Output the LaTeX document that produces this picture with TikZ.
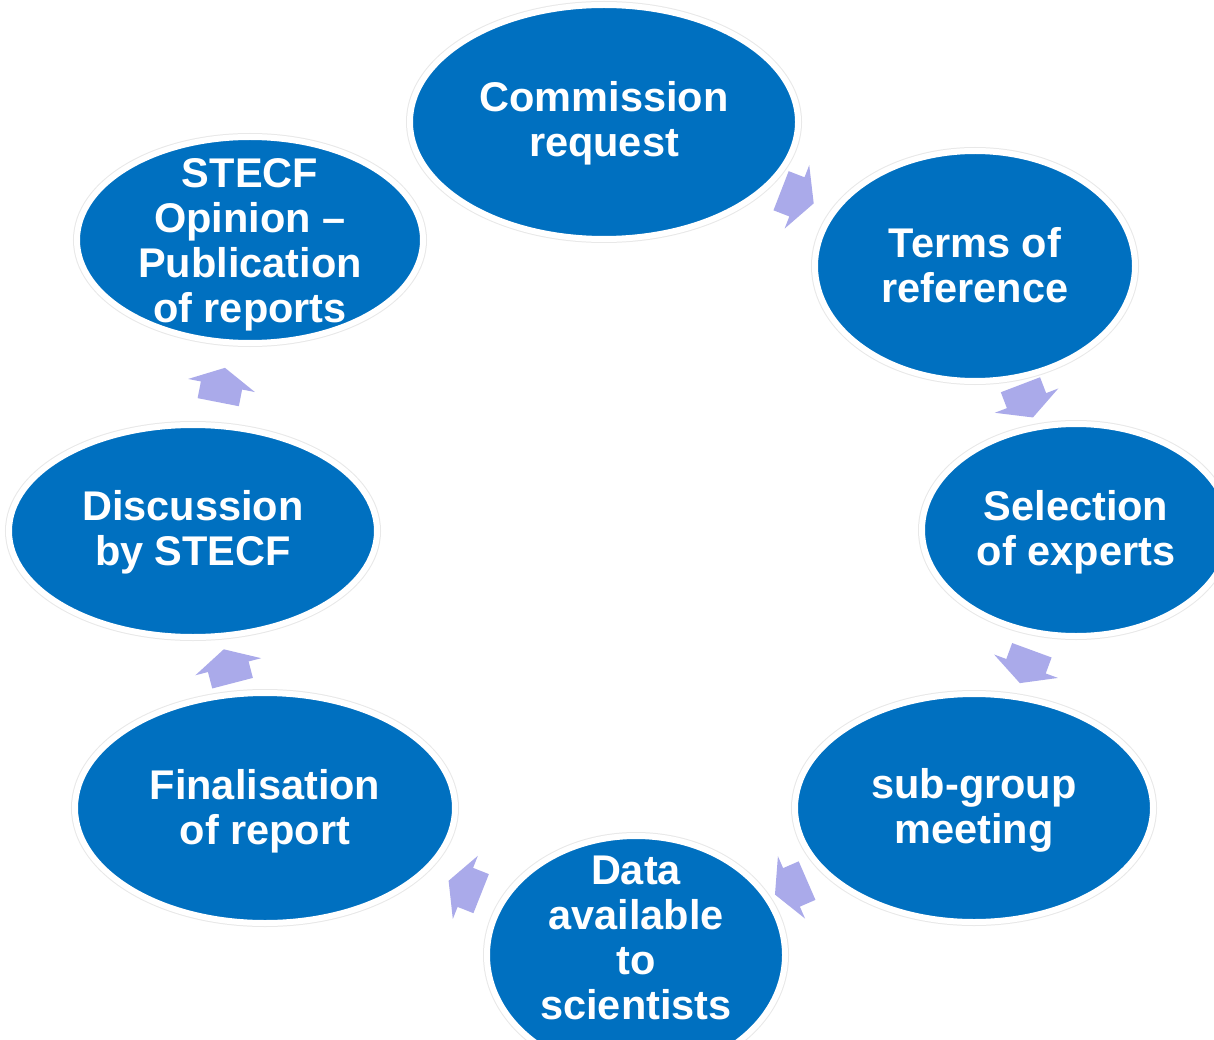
\documentclass[tikz,border=0pt]{standalone}
\usepackage{fontspec}
\setmainfont{Liberation Sans}
\usetikzlibrary{shapes.geometric,calc}
\definecolor{stepblue}{HTML}{0070C0}
\definecolor{arrowlav}{RGB}{170,170,234}
\tikzset{
  stepell/.style={ellipse, inner sep=0pt, fill=stepblue, draw=white, line width=6pt,
    preaction={draw=black!9, line width=8pt}},
  steptext/.style={text=white, font=\fontsize{41.5}{45}\selectfont\bfseries, align=center, inner sep=0pt},
  cycarrow/.pic={\fill[arrowlav] (-17,-21) -- (0,-21) -- (0,-34) -- (18,0) -- (0,34) -- (0,21) -- (-17,21) -- cycle;},
  flow/.style={pos=#1, sloped, allow upside down}
}
\begin{document}
\begin{tikzpicture}[x=1pt,y=-1pt]
\clip (0,0) rectangle (1214,1040);
\fill[white] (0,0) rectangle (1214,1040);
% ellipses
\node[stepell, minimum width=388pt, minimum height=234pt] (c1) at (604,122) {};
\node[stepell, minimum width=320pt, minimum height=230pt] (c2) at (975,266) {};
\node[stepell, minimum width=308pt, minimum height=212pt] (c3) at (1076,530) {};
\node[stepell, minimum width=358pt, minimum height=228pt] (c4) at (974,808) {};
\node[stepell, minimum width=298pt, minimum height=238pt] (c5) at (636,955) {};
\node[stepell, minimum width=380pt, minimum height=230pt] (c6) at (265,808) {};
\node[stepell, minimum width=368pt, minimum height=212pt] (c7) at (193,531) {};
\node[stepell, minimum width=346pt, minimum height=206pt] (c8) at (250,240) {};
% texts
\node[steptext] (t1) at ($(c1)+(0,1)$) {Commission\\request};
\node[steptext] (t2) at ($(c2)+(0,-1)$) {Terms of\\reference};
\node[steptext] (t3) at ($(c3)+(0,2)$) {Selection\\of experts};
\node[steptext] (t4) at ($(c4)+(0,2)$) {sub-group\\meeting};
\node[steptext] (t5) at ($(c5)+(0,-17)$) {Data\\available\\to\\scientists};
\node[steptext] (t6) at ($(c6)+(0,3)$) {Finalisation\\of report};
\node[steptext] (t7) at ($(c7)+(0,1)$) {Discussion\\by STECF};
\node[steptext] (t8) at ($(c8)+(0,5)$) {STECF\\Opinion –\\Publication\\of reports};
% arrows
\path (c1.center) -- pic[flow=0.52]{cycarrow} (c2.center);
\path (c2.center) -- pic[flow=0.51]{cycarrow} (c3.center);
\path (c3.center) -- pic[flow=0.49]{cycarrow} (c4.center);
\path (c4.center) -- pic[flow=0.54]{cycarrow} (c5.center);
\path (c5.center) -- pic[flow=0.46]{cycarrow} (c6.center);
\path (c6.center) -- pic[flow=0.51]{cycarrow} (c7.center);
\path (c7.center) -- pic[flow=0.50]{cycarrow} (c8.center);
\end{tikzpicture}
\end{document}
